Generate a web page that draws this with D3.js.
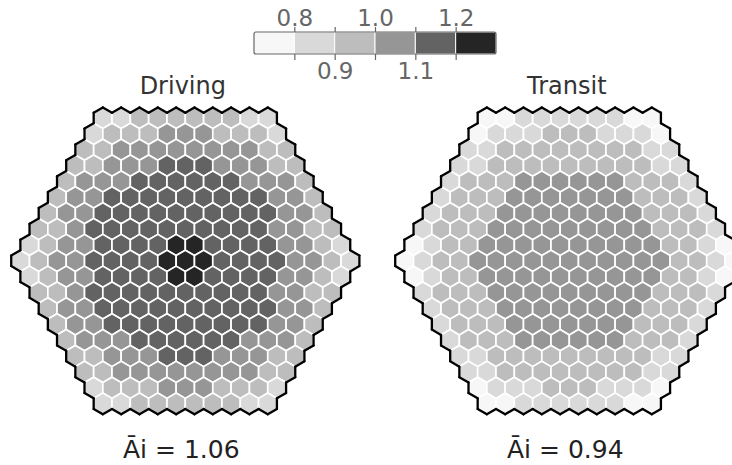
<!DOCTYPE html>
<html>
<head>
<meta charset="utf-8">
<script src="https://cdn.jsdelivr.net/npm/d3@7"></script>
<style>
  body { margin: 0; background: #fff; }
  svg { display: block; font-family: "DejaVu Sans", sans-serif; }
</style>
</head>
<body>
<div id="root"></div>
<script>
// bin index per cell, one string per row (top to bottom), 0 = lightest
const binMid = [0.75, 0.85, 0.95, 1.05, 1.15, 1.25];
const drivingRows = [
  "1122222211",
  "12223332221",
  "223333333322",
  "2233344433322",
  "23334444443332",
  "233444444444332",
  "2334444444444332",
  "22344444444443322",
  "123344445544443321",
  "1233444455544443321",
  "123344445544443321",
  "22344444444443322",
  "2334444444444332",
  "233444444444332",
  "23334444443332",
  "2233344433322",
  "223333333322",
  "12223332221",
  "1122222211"
];
const transitRows = [
  "0011111100",
  "01112221110",
  "112222222211",
  "1122222222211",
  "12223333332221",
  "122233333332221",
  "1222333333332221",
  "12223333333332221",
  "012233333333332210",
  "0122333333333332210",
  "012233333333332210",
  "12223333333332221",
  "1222333333332221",
  "122233333332221",
  "12223333332221",
  "1122222222211",
  "112222222211",
  "01112221110",
  "0011111100"
];
const panels = [
  {name: "Driving", rows: drivingRows, mean: "1.06"},
  {name: "Transit", rows: transitRows, mean: "0.94"}
];
const thresholds = [0.8, 0.9, 1.0, 1.1, 1.2];
const greys = ["#f7f7f7", "#d9d9d9", "#bdbdbd", "#969696", "#636363", "#252525"];

const width = 732, height = 465;
const R = 9;                       // hex radius of the grid
const s = 10.58;                   // hexagon side
const dx = Math.sqrt(3) * s, dy = 1.5 * s;
const centersX = [185.3, 569.3];

const color = d3.scaleThreshold().domain(thresholds).range(greys);

const svg = d3.select("#root").append("svg")
  .attr("width", width)
  .attr("height", height);

const corner = k => {
  const a = Math.PI / 180 * (60 * k - 90);
  return [s * Math.cos(a), s * Math.sin(a)];
};
const hexPath = d3.line()(d3.range(6).map(corner)) + "Z";

// edge k (corner k -> k+1) faces this axial neighbour
const nbr = [[1, -1], [1, 0], [0, 1], [-1, 1], [-1, 0], [0, -1]];
const inGrid = (q, r) => Math.abs(q) <= R && Math.abs(r) <= R && Math.abs(q + r) <= R;

const yScale = d3.scaleLinear().domain([-R, R]).range([118, 118 + 2 * R * dy]);

panels.forEach((p, pi) => {
  const xScale = d3.scaleLinear().domain([0, 1]).range([centersX[pi], centersX[pi] + dx]);
  const cells = [];
  p.rows.forEach((row, ri) => {
    const r = ri - R;
    const qmin = Math.max(-R, -R - r);
    row.split("").forEach((c, i) => {
      const q = qmin + i;
      cells.push({q, r, value: binMid[+c]});
    });
  });

  const g = svg.append("g");
  g.selectAll("path.cell")
    .data(cells)
    .enter().append("path")
      .attr("class", "cell")
      .attr("transform", d => `translate(${xScale(d.q + d.r / 2)},${yScale(d.r)})`)
      .attr("d", hexPath)
      .attr("fill", d => color(d.value))
      .attr("stroke", "#fff")
      .attr("stroke-width", 1.7);

  // outer boundary
  const edges = [];
  cells.forEach(d => {
    nbr.forEach((n, k) => {
      if (!inGrid(d.q + n[0], d.r + n[1])) {
        const cx = xScale(d.q + d.r / 2), cy = yScale(d.r);
        const a = corner(k), b = corner((k + 1) % 6);
        edges.push([cx + a[0], cy + a[1], cx + b[0], cy + b[1]]);
      }
    });
  });
  g.selectAll("line.edge")
    .data(edges)
    .enter().append("line")
      .attr("x1", e => e[0]).attr("y1", e => e[1])
      .attr("x2", e => e[2]).attr("y2", e => e[3])
      .attr("stroke", "#000")
      .attr("stroke-width", 2.3)
      .attr("stroke-linecap", "round");

  svg.append("text")
    .attr("x", centersX[pi] - 2.5)
    .attr("y", 94)
    .attr("text-anchor", "middle")
    .attr("font-size", 24)
    .attr("fill", "#333")
    .text(p.name);

  svg.append("text")
    .attr("x", centersX[pi] - 4)
    .attr("y", 458)
    .attr("text-anchor", "middle")
    .attr("font-size", 25)
    .attr("fill", "#222")
    .text("\u0100i = " + p.mean);
});

// colour bar
const cbX = d3.scaleLinear().domain([0.7, 1.3]).range([254, 496]);
const cbTop = 32, cbH = 22;
const bins = greys.map(c => color.invertExtent(c))
  .map(([a, b]) => [a === undefined ? 0.7 : a, b === undefined ? 1.3 : b]);

const cb = svg.append("g");
cb.selectAll("rect.bin")
  .data(bins)
  .enter().append("rect")
    .attr("x", d => cbX(d[0]))
    .attr("y", cbTop)
    .attr("width", d => cbX(d[1]) - cbX(d[0]))
    .attr("height", cbH)
    .attr("fill", d => color((d[0] + d[1]) / 2))
    .attr("stroke", "#fff")
    .attr("stroke-width", 1);
cb.append("rect")
  .attr("x", cbX(0.7)).attr("y", cbTop)
  .attr("width", cbX(1.3) - cbX(0.7)).attr("height", cbH)
  .attr("rx", 2)
  .attr("fill", "none")
  .attr("stroke", "#666")
  .attr("stroke-width", 1.2);

const fmt = d3.format(".1f");
const topAxis = cb.append("g")
  .attr("transform", `translate(0,${cbTop})`)
  .call(d3.axisTop(cbX).tickValues(thresholds).tickSize(5).tickPadding(1)
    .tickFormat((d, i) => i % 2 === 0 ? fmt(d) : ""));
const botAxis = cb.append("g")
  .attr("transform", `translate(0,${cbTop + cbH})`)
  .call(d3.axisBottom(cbX).tickValues(thresholds).tickSize(6).tickPadding(3)
    .tickFormat((d, i) => i % 2 === 1 ? fmt(d) : ""));
[topAxis, botAxis].forEach(a => {
  a.select(".domain").remove();
  a.selectAll("line").attr("stroke", "#666").attr("stroke-width", 1.2);
  a.selectAll("text")
    .attr("fill", "#666")
    .attr("font-size", 23)
    .attr("font-family", "DejaVu Sans, sans-serif");
});
</script>
</body>
</html>
